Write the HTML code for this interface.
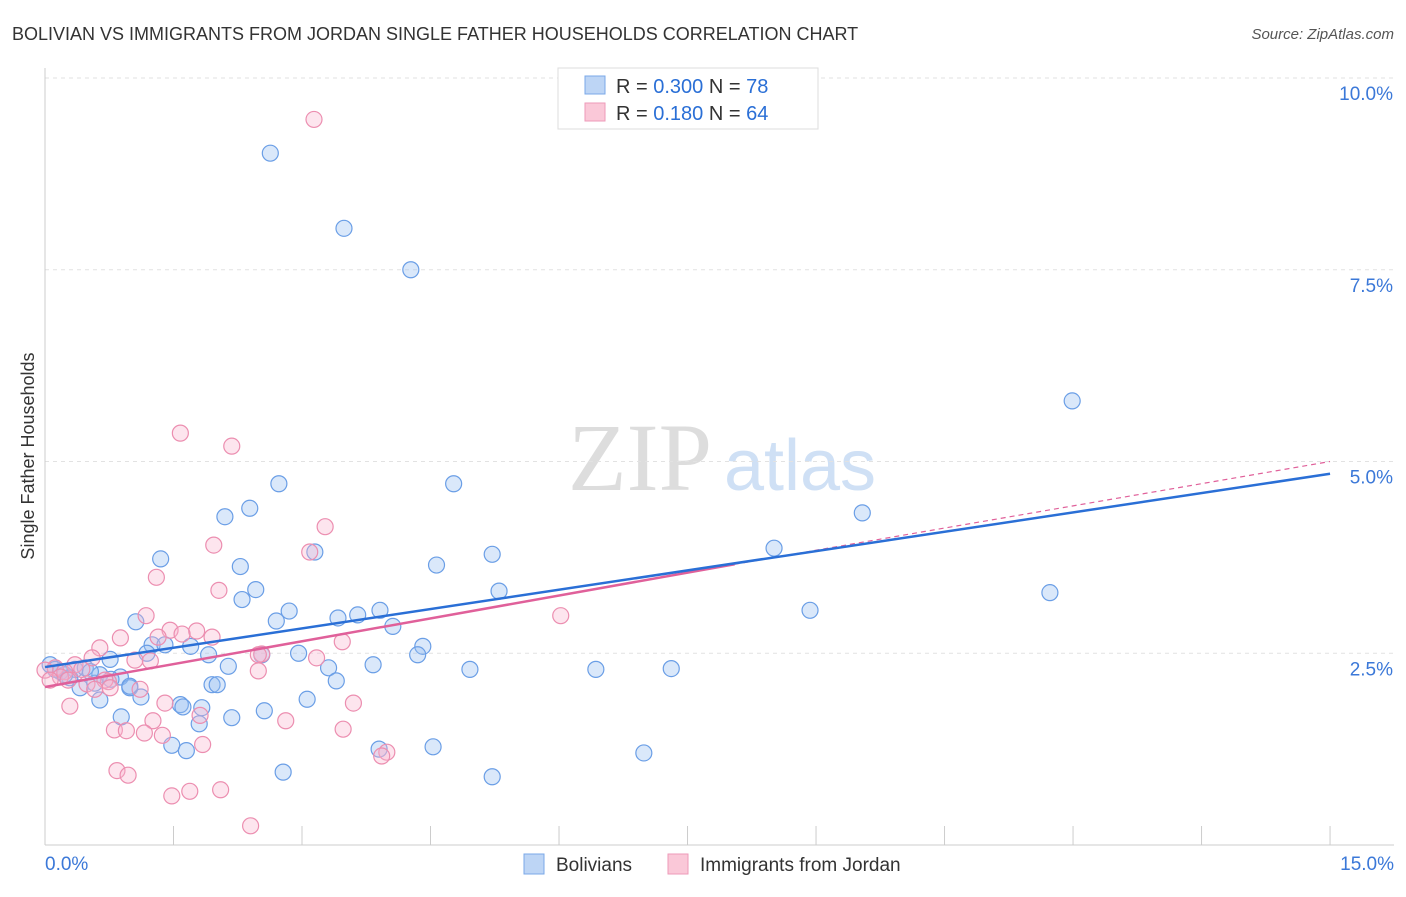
<!DOCTYPE html>
<html><head><meta charset="utf-8"><style>
body{margin:0;background:#fff;font-family:"Liberation Sans",sans-serif;}
</style></head><body>
<svg width="1406" height="892" xmlns="http://www.w3.org/2000/svg" id="chart">
<text x="12" y="40" font-size="18" fill="#333">BOLIVIAN VS IMMIGRANTS FROM JORDAN SINGLE FATHER HOUSEHOLDS CORRELATION CHART</text>
<text x="1394" y="39" font-size="15" fill="#555" font-style="italic" text-anchor="end">Source: ZipAtlas.com</text>
<text x="640" y="490" font-size="96" fill="#ddd" font-family="Liberation Serif" text-anchor="middle">ZIP</text>
<text x="800" y="490" font-size="72" fill="#cfe0f5" text-anchor="middle">atlas</text>
<text x="34" y="456" font-size="18" fill="#333" text-anchor="middle" transform="rotate(-90 34 456)">Single Father Households</text>
<g id="grid"></g><g id="axes"></g><g id="pts"></g><g id="trend"></g>
<g>
<rect x="558" y="68" width="260" height="61" fill="#fff" stroke="#ddd"/>
<rect x="585" y="76" width="20" height="18" fill="#bdd5f5" stroke="#7aa8e8"/>
<rect x="585" y="103" width="20" height="18" fill="#fac8d8" stroke="#ee9ab8"/>
<text x="616" y="93" font-size="20" fill="#333">R = <tspan fill="#2a6fd6">0.300</tspan>   N = <tspan fill="#2a6fd6">78</tspan></text>
<text x="616" y="120" font-size="20" fill="#333">R =  <tspan fill="#2a6fd6">0.180</tspan>   N = <tspan fill="#2a6fd6">64</tspan></text>
</g>
<g>
<rect x="524" y="854" width="20" height="20" fill="#bdd5f5" stroke="#7aa8e8"/>
<text x="556" y="871" font-size="19" fill="#333">Bolivians</text>
<rect x="668" y="854" width="20" height="20" fill="#fac8d8" stroke="#ee9ab8"/>
<text x="700" y="871" font-size="19" fill="#333">Immigrants from Jordan</text>
</g>
</svg>
<script>
const yTicks=[2.5,5.0,7.5,10.0];
const yTickLabels=["2.5%","5.0%","7.5%","10.0%"];
const blueX=[2.63,3.49,4.27,11.99,4.77,2.73,2.39,2.10,9.54,1.35,3.15,5.22,8.51,4.57,2.28,2.46,2.30,5.30,11.73,2.85,3.91,3.65,3.42,8.93,2.70,4.06,1.06,4.41,1.25,1.40,1.70,1.19,1.91,2.96,4.35,0.76,2.14,2.53,3.83,4.96,6.43,7.31,3.31,0.06,0.18,0.35,0.47,0.64,0.88,0.99,0.58,0.41,1.95,2.01,1.12,0.64,3.06,1.58,1.61,1.83,2.56,0.89,2.18,1.80,3.40,1.48,1.65,3.90,4.53,6.99,2.78,5.22,0.29,0.23,0.12,0.53,0.99,0.77];
const blueY=[9.02,8.04,7.50,5.79,4.71,4.71,4.39,4.28,4.33,3.73,3.82,3.79,3.87,3.65,3.63,3.33,3.20,3.31,3.29,3.05,3.06,3.00,2.96,3.06,2.92,2.85,2.91,2.59,2.61,2.61,2.59,2.50,2.48,2.50,2.48,2.42,2.33,2.48,2.35,2.29,2.29,2.30,2.31,2.35,2.26,2.29,2.31,2.22,2.19,2.05,2.11,2.05,2.09,2.09,1.93,1.89,1.90,1.83,1.80,1.79,1.75,1.67,1.66,1.58,2.14,1.30,1.23,1.25,1.28,1.20,0.95,0.89,2.18,2.22,2.29,2.26,2.07,2.16];
const pinkX=[3.14,1.58,2.18,3.27,1.97,3.09,1.30,2.03,1.18,6.02,1.46,1.77,1.60,1.95,0.88,1.32,3.47,0.64,2.53,0.55,3.17,1.05,1.23,0.35,0.12,0.0,0.23,0.43,0.74,1.11,2.49,0.49,0.70,0.18,0.27,0.76,1.40,1.81,3.60,2.81,1.26,0.81,0.95,1.16,1.37,3.48,0.29,1.84,3.99,3.93,0.84,0.97,1.69,1.48,2.05,2.40,2.49,0.06,0.58];
const pinkY=[9.46,5.37,5.20,4.15,3.91,3.82,3.49,3.32,2.99,2.99,2.80,2.79,2.75,2.71,2.70,2.71,2.65,2.57,2.49,2.44,2.44,2.41,2.40,2.35,2.31,2.28,2.26,2.29,2.13,2.03,2.27,2.10,2.15,2.19,2.15,2.05,1.85,1.69,1.85,1.62,1.62,1.50,1.49,1.46,1.43,1.51,1.81,1.31,1.21,1.16,0.97,0.91,0.70,0.64,0.72,0.25,2.48,2.15,2.03];
const blueTrend=[[0,2.32],[15,4.84]];
const pinkTrendSolid=[[0,2.06],[8.05,3.66]];
const pinkTrendDash=[[8.05,3.66],[15,5.0]];
const X=v=>45+v*85.67, Y=v=>845-v*76.7;
const NS="http://www.w3.org/2000/svg";
function mk(t,a,p){const e=document.createElementNS(NS,t);for(const k in a)e.setAttribute(k,a[k]);document.getElementById(p).appendChild(e);return e;}
yTicks.forEach((t,i)=>{
 const l=mk('line',{x1:45,x2:1394,y1:Y(t),y2:Y(t),stroke:'#e2e2e2','stroke-dasharray':'4,4'},'grid');
 
 
 const tx=mk('text',{x:1393,y:Y(t)+22,'font-size':19,fill:'#3b78d8','text-anchor':'end'},'axes');
 tx.textContent=yTickLabels[i];
 
 
});
const ax=mk('line',{x1:45,x2:1394,y1:845,y2:845,stroke:'#ccc'},'axes');


const ay=mk('line',{x1:45,x2:45,y1:68,y2:845,stroke:'#ccc'},'axes');


for(let i=0;i<=10;i++){const t=mk('line',{x1:X(i*1.5),x2:X(i*1.5),y1:826,y2:845,stroke:'#ccc'},'axes');
 
 }
[["0.0%",45,"start"],["15.0%",1394,"end"]].forEach(d=>{const t=mk('text',{x:d[1],y:870,'font-size':19,fill:'#3b78d8','text-anchor':d[2]},'axes');t.textContent=d[0];
 
 });
blueX.forEach((x,i)=>{const c=mk('circle',{cx:X(x),cy:Y(blueY[i]),r:8,fill:'rgba(150,190,240,0.35)',stroke:'#6a9ee6','stroke-width':1.2},'pts');
 
 });
pinkX.forEach((x,i)=>{const c=mk('circle',{cx:X(x),cy:Y(pinkY[i]),r:8,fill:'rgba(248,180,205,0.35)',stroke:'#ec8eb0','stroke-width':1.2},'pts');
 
 });
function ln(d,s,w,dash,name){const l=mk('line',{x1:X(d[0][0]),y1:Y(d[0][1]),x2:X(d[1][0]),y2:Y(d[1][1]),stroke:s,'stroke-width':w},'trend');if(dash)l.setAttribute('stroke-dasharray',dash);
 
 }
ln(pinkTrendSolid,'#e0609a',2.5,null,'jordan-trend-line');
ln(pinkTrendDash,'#e0609a',1.2,'5,4','jordan-trend-extension');
ln(blueTrend,'#2a6fd6',2.5,null,'bolivians-trend-line');
</script>
</body></html>
